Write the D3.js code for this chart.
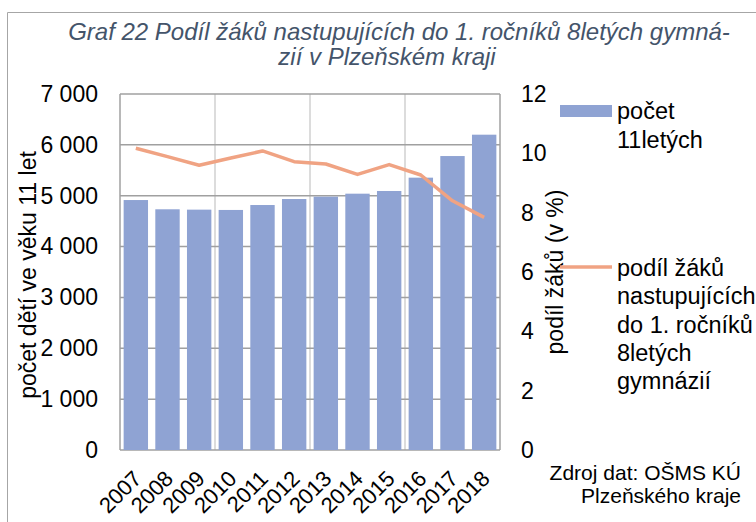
<!DOCTYPE html>
<html>
<head>
<meta charset="utf-8">
<script src="https://cdn.jsdelivr.net/npm/d3@7"></script>
<style>
  body { margin: 0; background: #fff; }
  text { font-family: "Liberation Sans", Arial, sans-serif; }
</style>
</head>
<body>
<div id="viz"></div>
<script>
const years = ['2007', '2008', '2009', '2010', '2011', '2012', '2013', '2014', '2015', '2016', '2017', '2018'];
const pocet = [4915, 4733, 4726, 4720, 4817, 4935, 4981, 5040, 5093, 5355, 5780, 6200];
const podil = [10.17, 9.89, 9.6, 9.84, 10.08, 9.72, 9.64, 9.29, 9.62, 9.27, 8.4, 7.84];
const leftTicks = [0, 1000, 2000, 3000, 4000, 5000, 6000, 7000];
const rightTicks = [0, 2, 4, 6, 8, 10, 12];

let locale = d3.formatLocale({ decimal: ',', thousands: '\u00a0', grouping: [3], currency: ['', ''] });
let f = locale.format(',');

let W = 756, H = 522;
let margin = { top: 94, right: 256, bottom: 72, left: 120 },
  width = W - margin.left - margin.right,
  height = H - margin.top - margin.bottom;

let svgRoot = d3.select('#viz').append('svg')
  .attr('width', W)
  .attr('height', H);

// outer frame (only top/left edges visible)
svgRoot.append('path')
  .attr('d', `M7.5,${H} V12.5 H${W}`)
  .attr('fill', 'none')
  .attr('stroke', '#a6a6a6')
  .attr('stroke-width', 1);

let title = svgRoot.append('text')
  .attr('text-anchor', 'middle')
  .attr('fill', '#44546a')
  .style('font-style', 'italic')
  .style('font-size', '24px');
title.append('tspan').attr('x', 399).attr('y', 40).text('Graf 22 Podíl žáků nastupujících do 1. ročníků 8letých gymná-');
title.append('tspan').attr('x', 387).attr('y', 65).text('zií v Plzeňském kraji');

let svg = svgRoot.append('g')
  .attr('transform', `translate(${margin.left},${margin.top})`);

let x = d3.scaleBand().domain(years).range([0, width]).paddingInner(0.23).paddingOuter(0.115);
let xc = d3.scaleBand().domain(years).range([0, width]);
let y = d3.scaleLinear().domain([0, 7000]).range([height, 0]);
let y2 = d3.scaleLinear().domain([0, 12]).range([height, 0]);

// vertical gridlines every 3 categories
let vlines = d3.range(0, years.length + 1, 3).map(i => i * xc.step());
svg.append('g').selectAll('line')
  .data(vlines.slice(1, -1))
  .join('line')
  .attr('x1', d => d).attr('x2', d => d)
  .attr('y1', 0).attr('y2', height)
  .attr('stroke', '#d0d0d0')
  .attr('stroke-width', 1.5);

// horizontal gridlines
svg.append('g').selectAll('line')
  .data(leftTicks)
  .join('line')
  .attr('x1', 0).attr('x2', width)
  .attr('y1', d => y(d)).attr('y2', d => y(d))
  .attr('stroke', '#a0a0a0')
  .attr('stroke-width', 1.5);

svg.append('line')
  .attr('x1', 0).attr('x2', 0).attr('y1', 0).attr('y2', height)
  .attr('stroke', '#a0a0a0').attr('stroke-width', 1.5);
svg.append('line')
  .attr('x1', width).attr('x2', width).attr('y1', 0).attr('y2', height)
  .attr('stroke', '#a0a0a0').attr('stroke-width', 1.5);

// bars
svg.append('g').selectAll('rect')
  .data(years)
  .join('rect')
  .attr('x', d => x(d))
  .attr('y', (d, i) => y(pocet[i]))
  .attr('width', x.bandwidth())
  .attr('height', (d, i) => height - y(pocet[i]))
  .attr('fill', '#8fa3d3');

// line
let line = d3.line()
  .x((d, i) => xc(years[i]) + xc.bandwidth() / 2)
  .y(d => y2(d));

svg.append('path')
  .datum(podil)
  .attr('d', line)
  .attr('fill', 'none')
  .attr('stroke', '#f0a383')
  .attr('stroke-width', 3.5)
  .attr('stroke-linejoin', 'round');

// axes
let yAxis = d3.axisLeft(y).tickValues(leftTicks).tickFormat(f).tickSize(0).tickPadding(22);
let gy = svg.append('g').call(yAxis);
gy.select('.domain').remove();
gy.selectAll('text').style('font-size', '23px').attr('fill', '#000').attr('font-family', null);

let y2Axis = d3.axisRight(y2).tickValues(rightTicks).tickSize(0).tickPadding(21);
let gy2 = svg.append('g').attr('transform', `translate(${width},0)`).call(y2Axis);
gy2.select('.domain').remove();
gy2.selectAll('text').style('font-size', '23px').attr('fill', '#000').attr('font-family', null);

let xAxis = d3.axisBottom(xc).tickSize(0).tickPadding(0);
let gx = svg.append('g').attr('transform', `translate(0,${height})`).call(xAxis);
gx.select('.domain').remove();
gx.selectAll('text')
  .style('font-size', '22px')
  .attr('fill', '#000')
  .attr('font-family', null)
  .attr('text-anchor', 'end')
  .attr('dy', null)
  .attr('transform', 'translate(7,30) rotate(-45)');

// axis titles
svgRoot.append('text')
  .attr('transform', `translate(36,${margin.top + height / 2 + 3}) rotate(-90)`)
  .attr('text-anchor', 'middle')
  .style('font-size', '23px')
  .text('počet dětí ve věku 11 let');

svgRoot.append('text')
  .attr('transform', `translate(563,${margin.top + height / 2}) rotate(-90)`)
  .attr('text-anchor', 'middle')
  .style('font-size', '23px')
  .text('podíl žáků (v %)');

// legend
let legend = svgRoot.append('g');
legend.append('rect')
  .attr('x', 560).attr('y', 105).attr('width', 52).attr('height', 12)
  .attr('fill', '#8fa3d3');
let l1 = legend.append('text').style('font-size', '23.5px');
['počet', '11letých'].forEach((s, i) => {
  l1.append('tspan').attr('x', 617).attr('y', 119 + i * 28.5).text(s);
});

legend.append('line')
  .attr('x1', 560).attr('x2', 612).attr('y1', 267).attr('y2', 267)
  .attr('stroke', '#f0a383').attr('stroke-width', 3.5);
let l2 = legend.append('text').style('font-size', '23.5px');
['podíl žáků', 'nastupujících', 'do 1. ročníků', '8letých', 'gymnázií'].forEach((s, i) => {
  l2.append('tspan').attr('x', 617).attr('y', 276 + i * 28.3).text(s);
});

// source
let src = svgRoot.append('text').attr('text-anchor', 'end').style('font-size', '21px');
src.append('tspan').attr('x', 741).attr('y', 480).text('Zdroj dat: OŠMS KÚ');
src.append('tspan').attr('x', 741).attr('y', 503).text('Plzeňského kraje');
</script>
</body>
</html>
